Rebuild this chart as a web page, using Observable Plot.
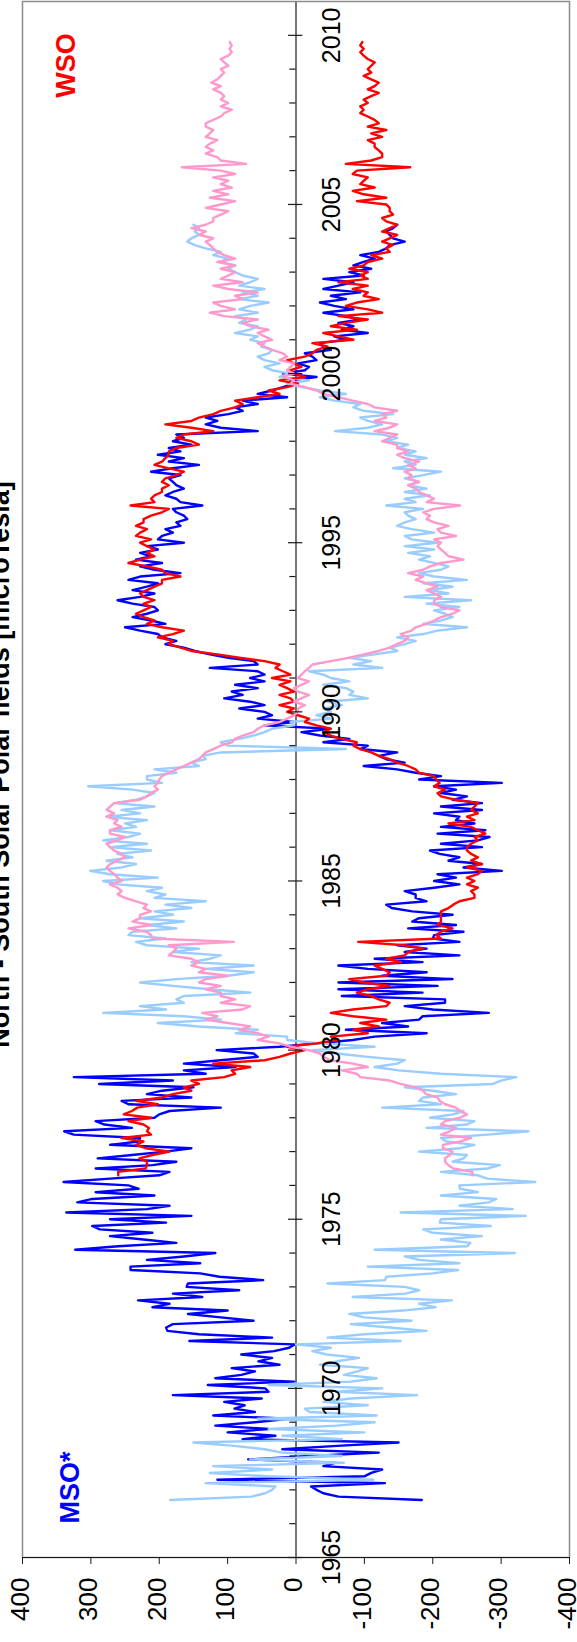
<!DOCTYPE html>
<html>
<head>
<meta charset="utf-8">
<script src="https://cdn.jsdelivr.net/npm/d3@7"></script>
<script src="https://cdn.jsdelivr.net/npm/@observablehq/plot@0.6"></script>
<style>
html, body { margin: 0; padding: 0; background: #fff; }
#chart svg { display: block; }
</style>
</head>
<body>
<div id="chart"></div>
<script>
const titleText = "North - South Solar Polar fields [microTesla]";
const msoLabel = "MSO*";
const wsoLabel = "WSO";

// sampling of the series (decimal years)
const msoStart = 1966.7;
const wsoStart = 1976.3;
const step = 0.1;

// MSO* north (dark blue)
const msoNorth = [
-184,-62,-40,-30,-22,-130,115,-100,-110,-126,-40,-57,70,-20,-121,20,-60,-150,78,30,100,40,118,60,10,121,60,90,75,
105,50,180,40,45,129,3,118,80,60,94,24,55,35,80,32,10,2,156,35,142,188,190,180,62,110,158,100,210,185,231,137,180,83,160,158,48,112,140,242,242,140,218,164,118,323,260,175,223,272,210,287,298,190,272,153,336,218,185,320,
298,207,293,230,245,340,272,200,185,293,210,175,290,240,191,153,272,230,228,325,339,240,280,293,207,200,185,110,245,255,153,218,196,150,288,180,325,132,164,88,164,110,56,62,116,24,-30,-83,-115,-191,-73,-164,-126,-180,-185,-282,-200,-159,-218,
-218,-67,-185,-62,-207,-62,-229,-126,-191,-105,-62,-185,-115,-239,-159,-191,-148,-239,-200,-202,-245,-164,-234,-170,-180,-229,-170,-140,-132,-191,-175,-175,-159,-202,-239,-202,-234,-207,-301,-245,-272,-223,-239,-210,-196,-272,-212,-266,-283,-207,-277,-212,-261,-234,-239,-202,-272,-212,-272,
-229,-250,-212,-234,-202,-301,-180,-212,-175,-148,-99,-159,-132,-121,-148,-94,-105,-40,-78,-35,-8,-50,46,3,56,35,46,83,46,67,105,78,94,56,89,46,67,46,56,126,56,62,99,126,148,164,191,175,196,202,228,250,191,212,239,218,202,207,239,
261,228,207,239,218,202,245,228,169,207,228,196,234,212,228,202,218,164,202,196,180,191,169,175,159,164,175,180,137,169,175,191,180,164,175,180,186,169,212,180,142,186,164,202,169,186,153,180,164,175,56,110,132,115,132,99,78,89,56,
78,13,56,35,19,3,8,-30,19,-13,-19,-3,-30,-24,-13,-51,-40,-35,-73,-56,-105,-67,-84,-62,-94,-73,-40,-84,-56,-35,-73,-51,-94,-40,-62,-84,-40,-99,-78,-110,-84,-99,-115,-94,-121,-132,-137,-159,-142,-137,-132,-142,-148
];

// MSO* south (light blue)
const msoSouth = [
184,65,45,35,30,132,-113,40,126,35,121,-70,67,-67,20,46,90,150,-67,20,-100,40,-60,-115,56,-118,-20,-13,-105,
-40,-80,-177,-60,-126,40,-80,-118,-70,-90,-105,-35,-60,-92,-45,-24,-51,0,-153,-46,-100,-191,-137,-80,-169,-100,-78,-156,-204,-180,-228,-83,-160,-180,-159,-46,-130,-132,-200,-237,-105,-239,-180,-159,-320,-115,-250,-255,-212,-272,-200,-186,-285,-210,-212,-336,-153,-317,-239,-282,
-293,-212,-266,-240,-239,-350,-280,-266,-212,-280,-298,-229,-245,-250,-180,-240,-261,-220,-212,-280,-340,-191,-250,-261,-196,-230,-245,-126,-212,-180,-186,-234,-200,-159,-288,-300,-322,-212,-150,-115,-148,-159,-105,-60,-24,-115,-35,13,13,88,56,142,202,110,164,282,190,228,164,
175,164,67,126,180,228,175,99,62,132,62,153,126,110,180,142,218,234,191,245,239,175,218,164,228,180,207,153,191,132,207,191,218,196,261,282,202,272,301,255,234,277,239,261,212,272,218,282,245,228,272,234,250,218,277,228,255,207,266,
234,218,207,239,304,196,218,218,175,207,142,153,132,137,110,-73,99,110,83,62,46,35,3,8,-51,-30,-51,-40,-67,-46,-105,-78,-84,-73,-40,-78,-51,-40,-19,-126,-84,-110,-78,-115,-148,-137,-159,-175,-148,-186,-207,-250,-186,-212,-229,-218,-202,-239,-191,
-256,-159,-223,-196,-229,-186,-250,-202,-180,-212,-223,-202,-180,-196,-164,-202,-159,-207,-169,-159,-202,-169,-148,-159,-175,-164,-159,-186,-132,-175,-159,-196,-159,-191,-164,-180,-159,-186,-212,-142,-175,-159,-191,-159,-175,-148,-164,-132,-148,-126,-57,-105,-126,-105,-94,-142,-99,-84,-94,
-56,-35,-73,-35,-8,13,-19,24,8,35,46,24,46,56,40,35,51,46,67,56,89,67,56,83,73,89,56,83,67,40,83,56,78,46,83,67,56,78,89,99,89,110,99,121,110,132,148,159,153,142,148,142,150
];

// WSO north (red)
const wsoNorth = [
260,260,220,218,218,229,210,185,220,234,223,255,212,218,215,223,245,212,252,240,232,202,234,196,180,153,164,142,153,105,89,94,67,121,46,24,8,-13,13,-30,-62,-51,-105,-84,-121,-94,-132,-83,-51,-83,-132,-137,
-121,-110,-89,-105,-137,-99,-78,-132,-137,-126,-115,-153,-132,-159,-164,-186,-159,-91,-212,-205,-212,-229,-207,-212,-212,-212,-212,-223,-230,-239,-261,-261,-256,-266,-250,-261,-250,-266,-272,-250,-272,-256,-266,-256,-250,-250,-256,-266,-261,-277,-266,-256,-223,-261,-250,-266,-256,-261,-266,
-234,-212,-207,-218,-202,-210,-205,-202,-180,-175,-164,-148,-137,-121,-110,-94,-84,-89,-67,-51,-40,-51,-30,-13,-19,-3,13,3,24,3,8,24,3,13,24,8,35,8,19,30,24,46,83,115,153,169,186,180,202,180,164,196,218,207,223,234,223,212,223,
207,223,228,218,207,196,196,169,191,196,218,245,228,207,218,207,218,228,212,234,228,218,234,223,223,212,196,186,242,207,212,207,196,196,186,196,191,175,164,186,207,196,191,186,186,175,142,153,175,164,121,153,191,153,142,121,110,89,78,
89,56,24,40,13,-3,24,-13,3,8,-8,3,13,-13,-24,-30,-46,-24,-84,-62,-40,-89,-51,-73,-105,-62,-126,-105,-73,-89,-121,-99,-105,-83,-105,-62,-105,-94,-105,-78,-99,-105,-126,-110,-137,-132,-142,-126,-137,-148,-126,-137,-148,-132,-126,-142,-137,-137,-132,
-89,-132,-99,-83,-115,-94,-99,-105,-83,-89,-167,-73,-110,-126,-126,-121,-115,-115,-105,-126,-110,-132,-105,-121,-115,-105,-94,-99,-94,-105,-99,-110,-121,-105,-115,-121,-110,-99,-110,-105,-110,-115,-105,-99,-94,-99,-94,-97
];

// WSO south (pink)
const wsoSouth = [
-258,-258,-230,-223,-218,-218,-225,-229,-215,-215,-240,-256,-212,-225,-234,-212,-218,-240,-250,-240,-234,-218,-210,-207,-190,-186,-175,-153,-137,-94,-89,-67,-105,-83,-51,-40,-35,-19,8,24,56,40,56,83,67,99,132,115,137,78,67,110,
89,110,110,132,110,142,132,99,142,132,153,142,153,186,180,175,186,91,210,212,218,245,212,239,228,228,212,223,218,234,250,261,255,261,272,255,261,266,272,277,272,261,250,255,266,272,277,261,250,272,272,255,266,261,277,266,277,272,266,
228,218,212,202,207,202,200,196,186,175,164,153,142,137,132,121,110,94,89,78,62,56,46,24,13,3,-3,-3,-13,3,-8,-19,-3,3,-8,-19,-3,-8,-13,-19,-24,-51,-78,-99,-121,-137,-148,-159,-164,-153,-169,-175,-191,-202,-212,-229,-239,-212,-202,
-202,-212,-202,-191,-207,-191,-175,-186,-164,-186,-196,-212,-245,-223,-218,-212,-207,-212,-202,-234,-212,-207,-223,-202,-191,-196,-186,-202,-240,-191,-202,-191,-180,-175,-164,-180,-164,-169,-159,-175,-164,-180,-159,-148,-164,-148,-148,-126,-137,-148,-115,-137,-148,-115,-132,-126,-148,-115,-105,
-83,-62,-40,-30,-13,8,3,19,3,13,8,3,24,13,19,35,46,56,35,46,56,40,67,78,56,105,126,89,110,121,78,89,56,99,121,78,110,99,89,110,89,115,89,105,115,121,126,132,121,142,132,153,132,121,121,110,99,132,110,
89,126,99,121,94,110,99,121,89,110,167,73,110,115,132,121,132,126,115,132,126,121,132,132,121,110,105,94,110,99,110,105,110,121,110,124,115,110,105,110,99,105,110,99,94,97,94,97
];

const valueTicks = [400, 300, 200, 100, 0, -100, -200, -300, -400];
const majorYears = [1965, 1970, 1975, 1980, 1985, 1990, 1995, 2000, 2005, 2010];
const minorYears = [1966,1967,1968,1969,1971,1972,1973,1974,1976,1977,1978,1979,1981,1982,1983,1984,1986,1987,1988,1989,1991,1992,1993,1994,1996,1997,1998,1999,2001,2002,2003,2004,2006,2007,2008,2009];

function rows(values, start) {
  return values.map((v, i) => ({year: Math.round((start + i * step) * 10) / 10, value: v}));
}

const font = "'Liberation Sans', Arial, Helvetica, sans-serif";
const axisColor = "#1a1a1a";
const lw = 2.4;

const chart = Plot.plot({
  width: 577,
  height: 1642,
  marginLeft: 22,
  marginRight: 8,
  marginTop: 1,
  marginBottom: 85,
  style: {fontFamily: font, background: "white", color: "black"},
  x: {domain: [400, -400], axis: null},
  y: {domain: [1965, 2011], axis: null},
  marks: [
    Plot.ruleX([0], {stroke: axisColor, strokeWidth: 1.2}),
    Plot.line(rows(msoNorth, msoStart), {x: "value", y: "year", stroke: "#0000FF", strokeWidth: lw}),
    Plot.line(rows(msoSouth, msoStart), {x: "value", y: "year", stroke: "#99CCFF", strokeWidth: lw}),
    Plot.line(rows(wsoNorth, wsoStart), {x: "value", y: "year", stroke: "#FF0000", strokeWidth: lw}),
    Plot.line(rows(wsoSouth, wsoStart), {x: "value", y: "year", stroke: "#FF99CC", strokeWidth: lw}),
    Plot.frame({stroke: "#8c8c8c", strokeWidth: 1.5}),
    Plot.ruleY([1965], {stroke: axisColor, strokeWidth: 1.2}),
    Plot.axisX(valueTicks, {anchor: "bottom", label: null, tickSize: 7, tickFormat: () => "", stroke: axisColor}),
    Plot.ruleY(minorYears, {y: d => d, x1: 9, x2: 0, stroke: axisColor, strokeWidth: 1.2}),
    Plot.ruleY(majorYears, {y: d => d, x1: 11, x2: -10, stroke: axisColor, strokeWidth: 1.2}),
    Plot.text(majorYears, {x: 0, y: d => d, text: d => String(d), rotate: -90, dx: 36, fontSize: 25, textAnchor: "middle", lineAnchor: "middle", fill: "black"}),
    Plot.text(valueTicks, {x: d => d, y: 1965, text: d => String(d), rotate: -90, dx: -2, dy: 20, fontSize: 26, textAnchor: "end", lineAnchor: "middle", fill: "black"}),
    Plot.text([titleText], {frameAnchor: "left", dx: -14, dy: -15, rotate: -90, fontSize: 27, fontWeight: "bold", textAnchor: "middle", lineAnchor: "bottom", fill: "black"}),
    Plot.text([wsoLabel], {frameAnchor: "top-left", dx: 52, dy: 64, rotate: -90, fontSize: 27, fontWeight: "bold", textAnchor: "middle", lineAnchor: "bottom", fill: "#FF0000"}),
    Plot.text([msoLabel], {frameAnchor: "bottom-left", dx: 56, dy: -70, rotate: -90, fontSize: 27, fontWeight: "bold", textAnchor: "middle", lineAnchor: "bottom", fill: "#0000FF"})
  ]
});

document.getElementById("chart").appendChild(chart);
</script>
</body>
</html>
